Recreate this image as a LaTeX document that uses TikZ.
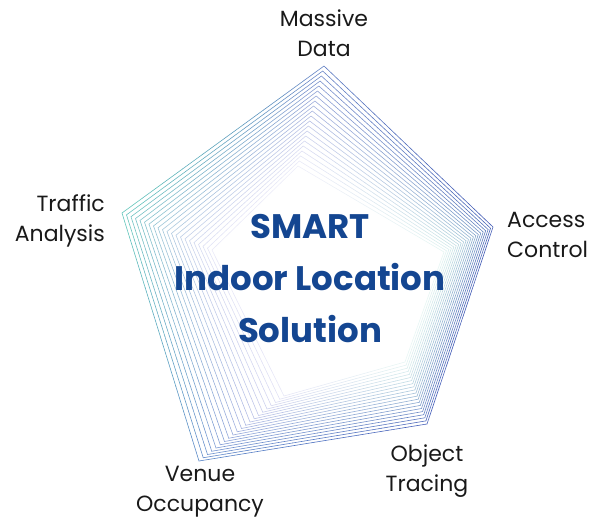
\documentclass[tikz,border=0pt]{standalone}
\usepackage{fontspec}
\setmainfont{Poppins}
\usetikzlibrary{calc}
\definecolor{oLc}{RGB}{95,200,185}
\definecolor{oTc}{RGB}{95,125,195}
\definecolor{oRc}{RGB}{65,90,180}
\definecolor{oBRc}{RGB}{70,95,185}
\definecolor{oBLc}{RGB}{90,135,200}
\definecolor{iLc}{RGB}{125,125,210}
\definecolor{iTc}{RGB}{160,160,220}
\definecolor{iRc}{RGB}{110,200,185}
\definecolor{iBRc}{RGB}{130,205,195}
\definecolor{iBLc}{RGB}{115,115,205}
\definecolor{titleblue}{RGB}{20,70,145}
\definecolor{labelgray}{RGB}{25,25,25}
\tikzset{
  label text/.style={text=labelgray, font=\fontsize{22}{30}\selectfont, align=center, inner sep=0pt},
  title text/.style={text=titleblue, font=\fontsize{34}{52}\selectfont\bfseries, align=center, inner sep=0pt},
  pentaline/.style={line width=0.6pt, line cap=round}
}
\begin{document}
\begin{tikzpicture}[x=1pt,y=-1pt]
\useasboundingbox (0,0) rectangle (606,521);
% outer pentagon
\coordinate (oP0) at (122,213);
\coordinate (oP1) at (324,66);
\coordinate (oP2) at (493,227);
\coordinate (oP3) at (427,424);
\coordinate (oP4) at (199,461);
% inner pentagon
\coordinate (iP0) at (212,250);
\coordinate (iP1) at (298,166);
\coordinate (iP2) at (444,252);
\coordinate (iP3) at (405,362);
\coordinate (iP4) at (284,396);
\foreach \k in {20,19,...,0}{
  \pgfmathsetmacro\t{\k/20}
  \pgfmathsetmacro\tp{100*\t}
  \pgfmathsetmacro\fd{100-82*\t}
  \foreach \v in {0,...,4}{
    \coordinate (p\v) at ($(oP\v)!\t!(iP\v)$);
  }
  \colorlet{c0}{iLc!\tp!oLc}\colorlet{c0}{c0!\fd!white}
  \colorlet{c1}{iTc!\tp!oTc}\colorlet{c1}{c1!\fd!white}
  \colorlet{c2}{iRc!\tp!oRc}\colorlet{c2}{c2!\fd!white}
  \colorlet{c3}{iBRc!\tp!oBRc}\colorlet{c3}{c3!\fd!white}
  \colorlet{c4}{iBLc!\tp!oBLc}\colorlet{c4}{c4!\fd!white}
  \foreach \i/\n in {0/1,1/2,2/3,3/4,4/0}{
    \foreach \j in {0,...,9}{
      \pgfmathsetmacro\a{\j/10}
      \pgfmathsetmacro\b{(\j+1)/10}
      \pgfmathsetmacro\cp{100-(\j+0.5)*10}
      \draw[pentaline, color=c\i!\cp!c\n] ($(p\i)!\a!(p\n)$) -- ($(p\i)!\b!(p\n)$);
    }
  }
}
\node[title text, anchor=base] (title) at (310,343) {SMART\\Indoor Location\\Solution};
\node[label text, anchor=base] (massive) at (324,57) {Massive\\Data};
\node[label text, anchor=base west, align=left] (access) at (507,258) {Access\\Control};
\node[label text, anchor=base] (object) at (427,492) {Object\\Tracing};
\node[label text, anchor=base] (venue) at (200,512) {Venue\\Occupancy};
\node[label text, anchor=base east, align=right] (traffic) at (105,242) {Traffic\\Analysis};
\end{tikzpicture}
\end{document}
